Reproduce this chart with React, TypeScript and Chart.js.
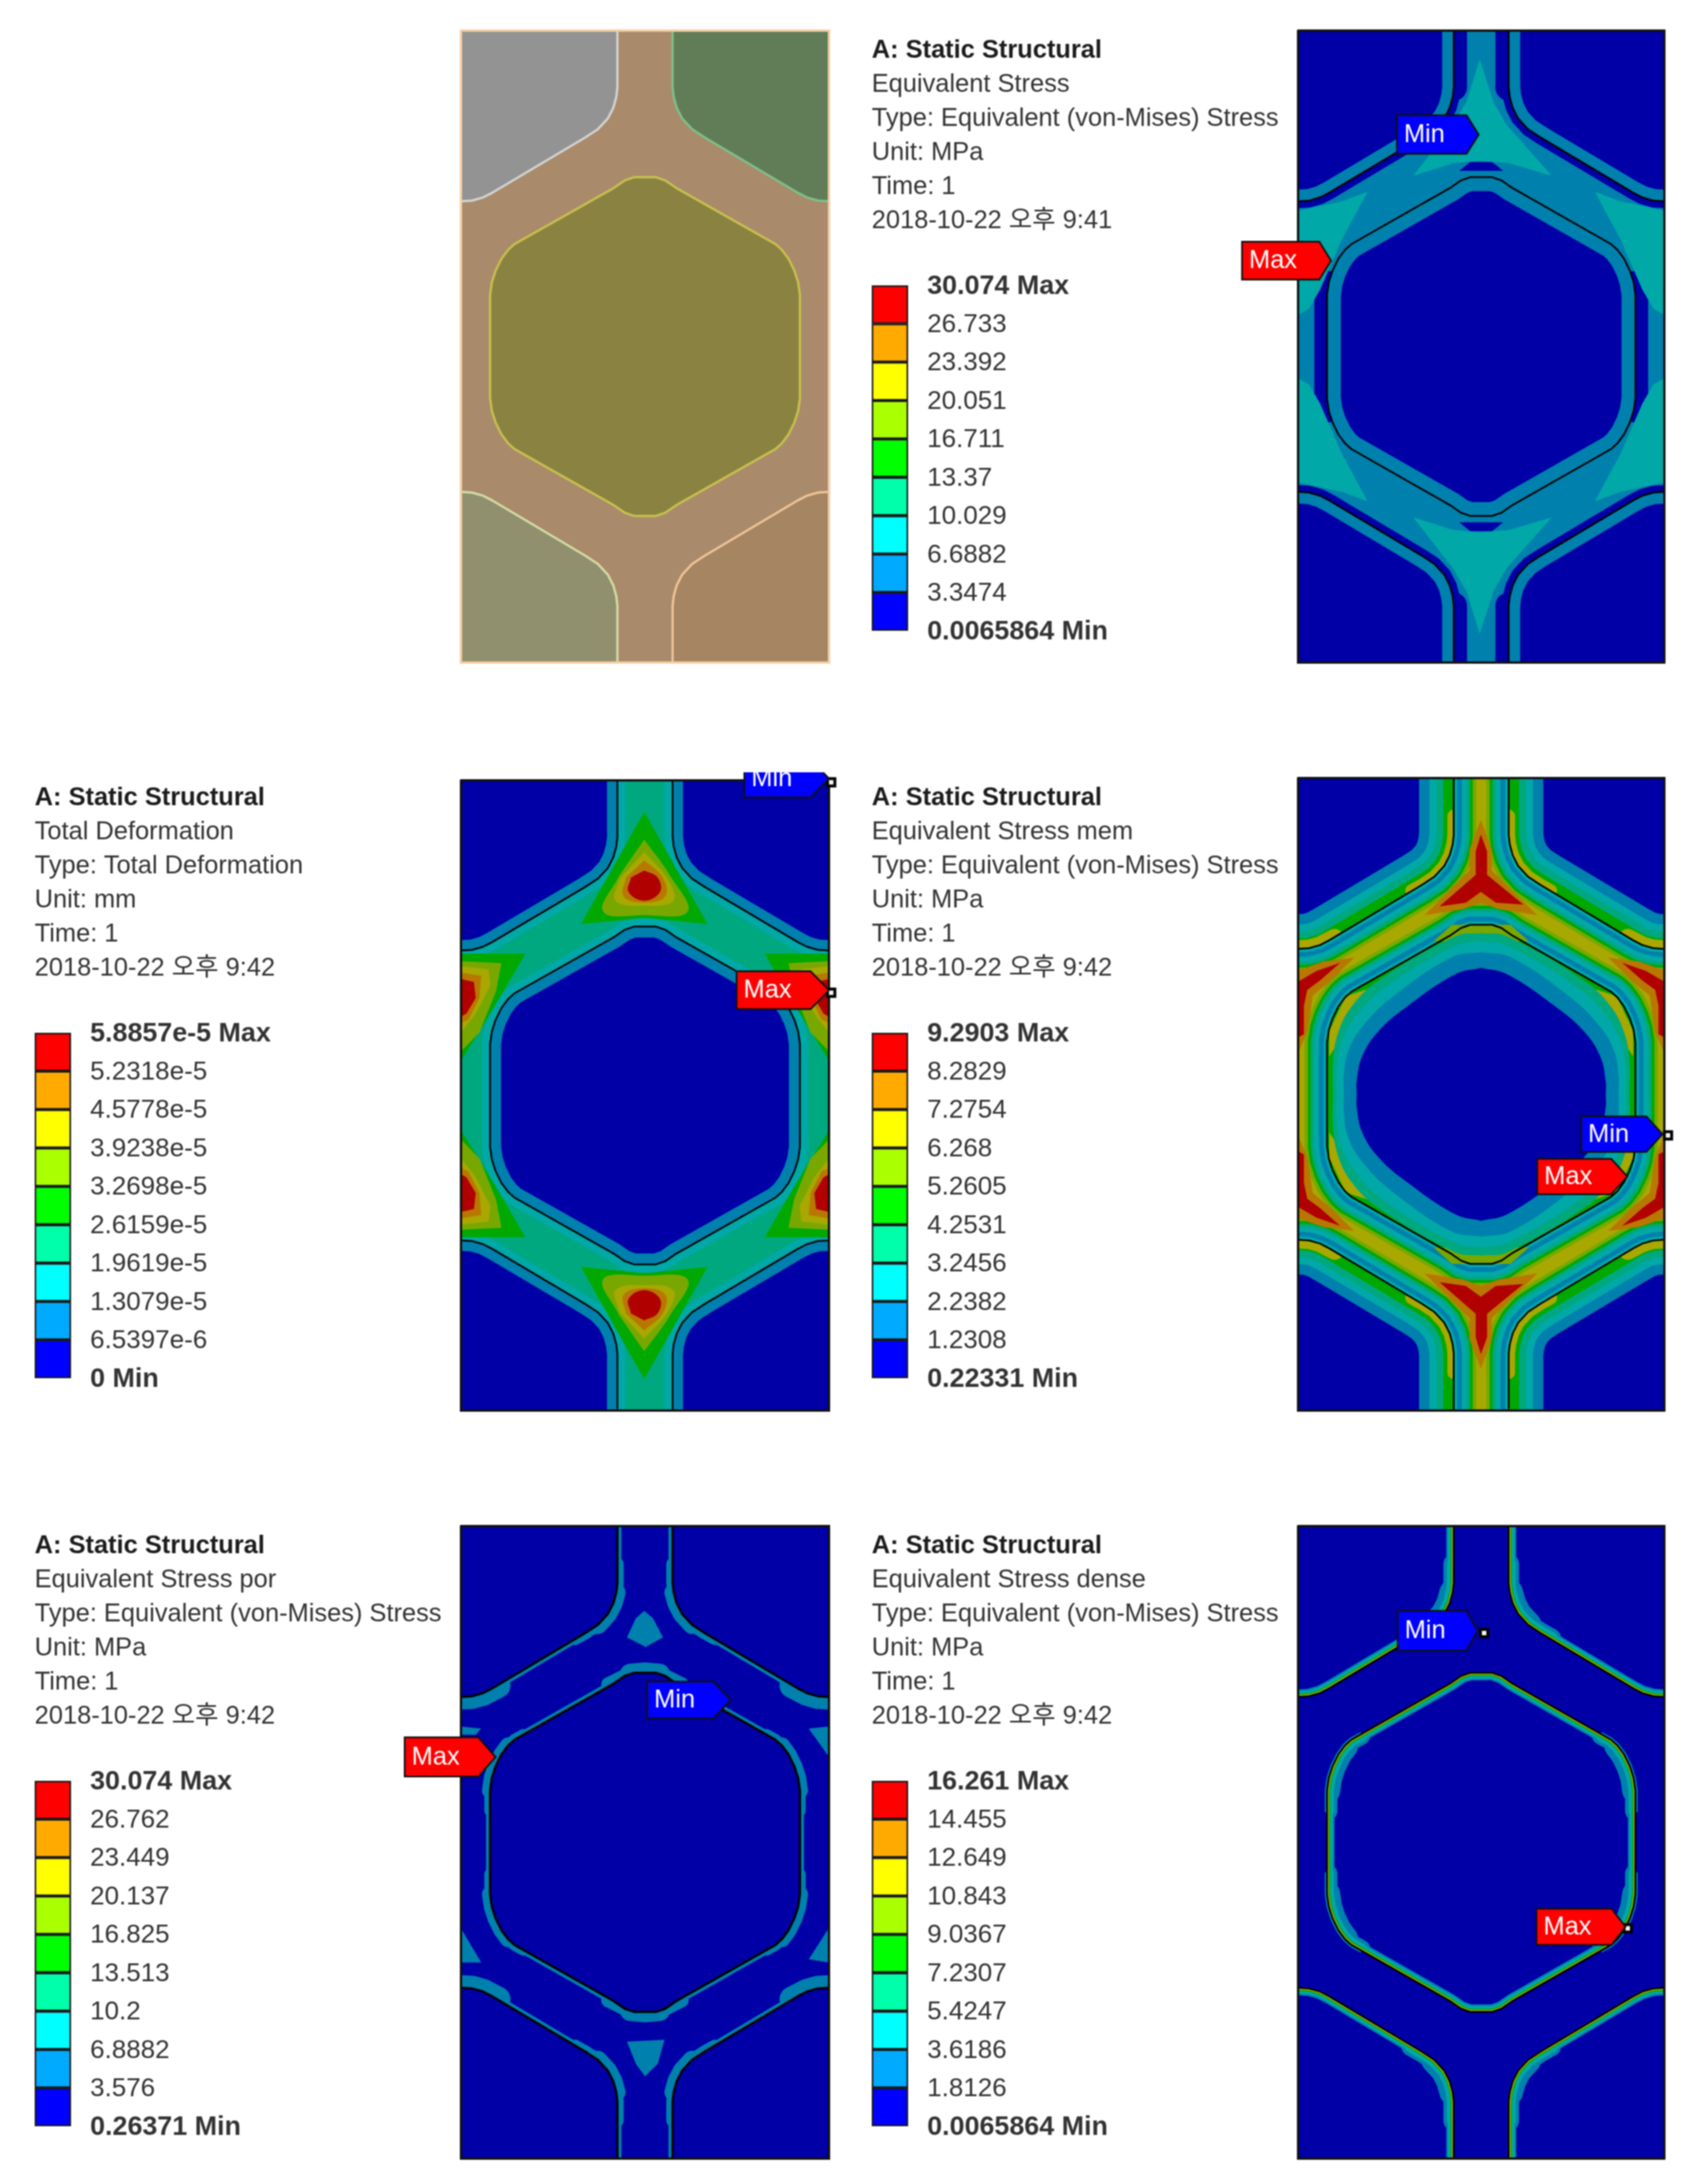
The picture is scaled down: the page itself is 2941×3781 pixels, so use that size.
import React, { useEffect, useRef } from "react";
import { Chart, registerables } from "chart.js";

Chart.register(...registerables);

type Pt = number[];

// ---------- text ----------
const headerTitle = "A: Static Structural";
const headerStress = ["Equivalent Stress", "Type: Equivalent (von-Mises) Stress", "Unit: MPa", "Time: 1", "2018-10-22 오후 9:41"];
const headerDeformation = ["Total Deformation", "Type: Total Deformation", "Unit: mm", "Time: 1", "2018-10-22 오후 9:42"];
const headerMem = ["Equivalent Stress mem", "Type: Equivalent (von-Mises) Stress", "Unit: MPa", "Time: 1", "2018-10-22 오후 9:42"];
const headerPor = ["Equivalent Stress por", "Type: Equivalent (von-Mises) Stress", "Unit: MPa", "Time: 1", "2018-10-22 오후 9:42"];
const headerDense = ["Equivalent Stress dense", "Type: Equivalent (von-Mises) Stress", "Unit: MPa", "Time: 1", "2018-10-22 오후 9:42"];

// ---------- legend levels ----------
const levelsStress = ["30.074 Max", "26.733", "23.392", "20.051", "16.711", "13.37", "10.029", "6.6882", "3.3474", "0.0065864 Min"];
const levelsDeformation = ["5.8857e-5 Max", "5.2318e-5", "4.5778e-5", "3.9238e-5", "3.2698e-5", "2.6159e-5", "1.9619e-5", "1.3079e-5", "6.5397e-6", "0 Min"];
const levelsMem = ["9.2903 Max", "8.2829", "7.2754", "6.268", "5.2605", "4.2531", "3.2456", "2.2382", "1.2308", "0.22331 Min"];
const levelsPor = ["30.074 Max", "26.762", "23.449", "20.137", "16.825", "13.513", "10.2", "6.8882", "3.576", "0.26371 Min"];
const levelsDense = ["16.261 Max", "14.455", "12.649", "10.843", "9.0367", "7.2307", "5.4247", "3.6186", "1.8126", "0.0065864 Min"];
const legendColors = ["#ff0000", "#ffaa00", "#ffff00", "#aaff00", "#00ff00", "#00ffaa", "#00ffff", "#00aaff", "#0000ff"];

// ---------- contour outlines, fractions of the panel ----------
const holeQuarter: Pt[] = [[.5, .232], [.53, .232], [.555, .237], [.585, .249], [.855, .338], [.872, .347], [.89, .361], [.906, .38], [.916, .398], [.921, .418], [.921, .5]];
const holeShoulder: Pt[] = [[.83, .33], [.855, .338], [.872, .347], [.89, .361], [.906, .38], [.916, .398], [.921, .418], [.921, .45]];
const holeShoulderCore: Pt[] = [[.872, .347], [.89, .361], [.906, .38], [.916, .398], [.921, .418]];
const holeSide: Pt[] = [[.921, .40], [.921, .5], [.921, .60]];
const holeCrown: Pt[] = [[.46, .234], [.5, .232], [.54, .234]];
const holeCrownWide: Pt[] = [[.40, .25], [.445, .237], [.5, .232], [.555, .237], [.60, .25]];
const cornerPath: Pt[] = [[.425, 0], [.425, .09], [.422, .105], [.414, .122], [.399, .139], [.372, .156], [.338, .169], [.085, .2565], [.06, .264], [.03, .269], [0, .27]];
const cornerArc: Pt[] = [[.425, .06], [.425, .09], [.422, .105], [.414, .122], [.399, .139], [.372, .156], [.338, .169], [.31, .178]];
const cornerArcCore: Pt[] = [[.422, .105], [.414, .122], [.399, .139], [.372, .156]];
const cornerEdge: Pt[] = [[.1, .252], [.06, .264], [.03, .269], [0, .27]];
const cornerStem: Pt[] = [[.425, 0], [.425, .09]];

const tealJunction: Pt[] = [[.496, .045], [.533, .112], [.569, .149], [.693, .23], [.577, .21], [.496, .206], [.423, .21], [.314, .23], [.423, .149], [.46, .112]];
const tealSide: Pt[] = [[0, .285], [.12, .27], [.19, .255], [.12, .33], [.06, .41], [.03, .44], [0, .45]];
const darkTopPatch: Pt[] = [[.44, .222], [.47, .208], [.53, .208], [.56, .222]];

const defGreen: Pt[] = [[.498, .05], [.67, .228], [.498, .218], [.326, .228]];
const defYg: Pt[] = [[.498, .094], [.568, .151], [.616, .208], [.498, .214], [.386, .208], [.43, .151]];
const defYel: Pt[] = [[.498, .114], [.562, .157], [.577, .191], [.498, .199], [.42, .191], [.43, .157]];
const defOrg: Pt[] = [[.498, .127], [.548, .154], [.555, .184], [.498, .194], [.442, .184], [.448, .154]];
const defRed: Pt[] = [[.498, .143], [.534, .154], [.541, .177], [.498, .191], [.455, .177], [.462, .154]];
const defSideGreen: Pt[] = [[0, .275], [.175, .275], [.09, .36], [0, .445]];
const defSideYg: Pt[] = [[0, .287], [.11, .29], [.095, .335], [.05, .40], [0, .43]];
const defSideYel: Pt[] = [[0, .295], [.075, .30], [.08, .325], [.04, .37], [0, .40]];
const defSideOrg: Pt[] = [[0, .305], [.055, .31], [.05, .345], [.02, .38], [0, .385]];
const defSideRed: Pt[] = [[0, .315], [.035, .32], [.04, .345], [.015, .37], [0, .375]];

const memOval: Pt[] = [[.5, .30], [.57, .31], [.70, .36], [.78, .40], [.825, .44], [.84, .48], [.84, .5]];
const memLb: Pt[] = [[.5, .275], [.58, .283], [.74, .345], [.82, .39], [.862, .43], [.875, .47], [.875, .5]];
const memTeal: Pt[] = [[.5, .258], [.57, .265], [.76, .33], [.84, .375], [.88, .415], [.895, .46], [.895, .5]];
const memGt: Pt[] = [[.5, .245], [.57, .25], [.78, .32], [.855, .362], [.892, .405], [.905, .45], [.905, .5]];
const memRedY: Pt[] = [[.499, .089], [.516, .116], [.516, .153], [.615, .2], [.54, .197], [.499, .18], [.458, .197], [.386, .203], [.485, .153], [.485, .116]];
const memOrgY: Pt[] = [[.499, .066], [.529, .113], [.529, .146], [.653, .217], [.547, .207], [.499, .197], [.451, .207], [.345, .217], [.468, .146], [.468, .113]];
const memRedSide: Pt[] = [[0, .322], [.05, .305], [.115, .292], [.06, .32], [.025, .335], [.016, .36], [.016, .405], [0, .41]];
const memOrgSide: Pt[] = [[0, .304], [.07, .29], [.153, .284], [.09, .32], [.04, .344], [.026, .40], [0, .435]];
const memHoleTop: Pt[] = [[.42, .232], [.58, .232], [.63, .258], [.37, .258]];
const memHoleShoulder: Pt[] = [[.79, .33], [.87, .345], [.915, .40], [.915, .44], [.87, .40]];

const porTop: Pt[] = [[.498, .134], [.522, .146], [.549, .176], [.502, .191], [.451, .176], [.475, .146]];
const porBottom: Pt[] = [[.451, .815], [.553, .812], [.535, .85], [.50, .87], [.475, .85]];
const porSideRight: Pt[] = [[.945, .32], [1, .317], [1, .365]];
const porSideLeft: Pt[] = [[0, .317], [.055, .32], [.04, .33], [0, .33]];
const porLowLeft: Pt[] = [[0, .636], [.055, .69], [0, .69]];
const porLowRight: Pt[] = [[1, .635], [.945, .685], [1, .69]];

// ---------- Max / Min flags: x start, x shoulder, tip x, top y, bottom y ----------
const flagsStress = [["Max", -.153, .058, .09, .334, .394], ["Min", .27, .46, .493, .134, .195]];
const flagsDeformation = [["Max", .749, .95, 1, .303, .363], ["Min", .77, .95, 1, -.033, .027]];
const flagsMem = [["Min", .773, .951, .995, .535, .591], ["Max", .653, .855, .899, .602, .658]];
const flagsPor = [["Max", -.153, .047, .094, .334, .396], ["Min", .506, .686, .733, .246, .304]];
const flagsDense = [["Min", .272, .46, .49, .134, .197], ["Max", .651, .856, .894, .605, .662]];
const markersDeformation: Pt[] = [[1.006, .003], [1.006, .337]];
const markersMem: Pt[] = [[1.01, .565]];
const markersDense: Pt[] = [[.508, .169], [.90, .636]];

// ---------- palette ----------
const C = { blue: "#0000a6", lb: "#0080ad", teal: "#00a8a8", gt: "#00a880", green: "#00a800", yg: "#78a800", yel: "#a8a800", org: "#b87800", red: "#b00000" };

// ---------- helpers ----------
const mx = (p: Pt[]) => p.map(([x, y]) => [1 - x, y]);
const my = (p: Pt[]) => p.map(([x, y]) => [x, 1 - y]);
const mxy = (p: Pt[]) => p.map(([x, y]) => [1 - x, 1 - y]);
const rev = (p: Pt[]) => [...p].reverse();
const fourfold = (q: Pt[]) => [...q, ...rev(my(q)), ...mxy(q), ...rev(mx(q))];
const four = (p: Pt[]) => [p, mx(p), my(p), mxy(p)];
const both = (p: Pt[]) => [p, my(p)];
const xy = (p: Pt[]) => p.map(([x, y]) => ({ x, y }));
const smooth = (ds: any[]) => ds.map((d) => ({ ...d, tension: .4 }));

const hole = fourfold(holeQuarter);
const cornerPaths = four(cornerPath);
const cornerRegions = four([...cornerPath, [0, 0], cornerPath[0]]);
const frame: Pt[] = [[0, 0], [1, 0], [1, 1], [0, 1], [0, 0]];

const fill = (p: Pt[], color: string) => ({
  data: xy(p), showLine: true, fill: "shape", backgroundColor: color, borderColor: color,
  borderWidth: 0, pointRadius: 0, clip: 0,
});
const fills = (ps: Pt[][], color: string) => ps.map((p) => fill(p, color));
const line = (p: Pt[], color: string, width: number, region?: string) => ({
  data: xy(p), showLine: true, fill: false, borderColor: color, borderWidth: width,
  pointRadius: 0, clip: 0, borderJoinStyle: "round", borderCapStyle: "round", region,
});
const lines = (ps: Pt[][], color: string, width: number, region?: string) => ps.map((p) => line(p, color, width, region));
const webLines = (color: string, width: number) => [...lines(cornerPaths, color, width, "web"), line(hole, color, width, "web")];
const innerLines = (color: string, width: number) => [...lines(cornerPaths, color, width, "inner"), line(hole, color, width, "inner")];
const blackLines = (w = 4) => [...lines(cornerPaths, "#000", w), line(hole, "#000", w)];
const regions = (color: string) => [...fills(cornerRegions, color), fill(hole, color)];
const flagData = (flags: any[]) =>
  flags.map(([name, x0, x1, tip, yT, yB]) => ({
    data: xy([[x0, yT], [x1, yT], [tip, (yT + yB) / 2], [x1, yB], [x0, yB], [x0, yT]]),
    showLine: false, pointRadius: 0, clip: false, flagText: name,
  }));
const markers = (m: Pt[]) => m.length ? [{
  data: xy(m), showLine: false, pointStyle: "rect", pointRadius: 9, backgroundColor: "#f4f4f4",
  borderColor: "#000", borderWidth: 5, clip: false,
}] : [];
const frameLine = (c = "#111", w = 4) => ({ ...line(frame, c, w), clip: false, borderJoinStyle: "miter" });

// ---------- panels ----------
const geometryLayers = () => [
  fill(frame, "#a98a6b"),
  fill(cornerRegions[0], "#939393"), fill(cornerRegions[1], "#607d58"), fill(cornerRegions[2], "#90906f"), fill(cornerRegions[3], "#a58562"),
  fill(hole, "#8a8240"),
  line(cornerPaths[0], "#d4d4d4", 4), line(cornerPaths[1], "#7fc08a", 4), line(cornerPaths[2], "#d4dca4", 4), line(cornerPaths[3], "#f0c498", 4),
  line(hole, "#c8c04e", 4),
  frameLine("#f3cda4", 4),
];

const stressLayers = () => [
  fill(frame, C.lb),
  ...lines(cornerPaths, C.blue, 24, "web"),
  ...lines(four(cornerStem), C.blue, 46, "web"),
  line(holeSide, C.blue, 44, "web"), line(mx(holeSide), C.blue, 44, "web"),
  ...fills(both(darkTopPatch), C.blue),
  ...fills(both(tealJunction), C.teal),
  ...fills(four(tealSide), C.teal),
  ...regions(C.blue),
  ...lines(cornerPaths, C.lb, 40, "inner"),
  line(hole, C.lb, 48, "inner"),
  ...blackLines(3),
  frameLine(),
  ...flagData(flagsStress),
];

const deformationLayers = () => [
  fill(frame, C.gt),
  ...webLines(C.teal, 28),
  ...fills(both(defGreen), C.green), ...smooth(fills(both(defYg), C.yg)), ...smooth(fills(both(defYel), C.yel)), ...smooth(fills(both(defOrg), C.org)), ...smooth(fills(both(defRed), C.red)),
  ...fills(four(defSideGreen), C.green), ...fills(four(defSideYg), C.yg), ...fills(four(defSideYel), C.yel), ...fills(four(defSideOrg), C.org), ...fills(four(defSideRed), C.red),
  ...regions(C.blue),
  ...lines(cornerPaths, C.lb, 36, "inner"),
  line(hole, C.lb, 38, "inner"),
  ...blackLines(3),
  frameLine(),
  ...flagData(flagsDeformation),
  ...markers(markersDeformation),
];

const memLayers = () => [
  fill(frame, C.yel),
  ...webLines(C.yg, 78), ...webLines(C.green, 66), ...webLines(C.gt, 56), ...webLines(C.teal, 44), ...webLines(C.lb, 28), ...webLines(C.teal, 12),
  ...fills(both(memOrgY), C.org), ...fills(four(memOrgSide), C.org),
  ...fills(both(memRedY), C.red), ...fills(four(memRedSide), C.red),
  fill(hole, C.green),
  ...fills(both(memHoleTop), C.yg),
  ...fills(four(memHoleShoulder), C.yel),
  ...smooth([fill(fourfold(memGt), C.gt), fill(fourfold(memTeal), C.teal), fill(fourfold(memLb), C.lb), fill(fourfold(memOval), C.blue)]),
  ...fills(cornerRegions, C.blue),
  ...lines(cornerPaths, C.lb, 120, "corners"),
  ...lines(cornerPaths, C.teal, 84, "corners"),
  ...lines(cornerPaths, C.gt, 60, "corners"),
  ...lines(cornerPaths, C.green, 36, "corners"),
  ...lines(four(cornerArc), C.yel, 22, "corners"),
  ...lines(four(cornerEdge), C.yel, 30, "corners"),
  ...blackLines(3),
  frameLine(),
  ...flagData(flagsMem),
  ...markers(markersMem),
];

const porLayers = () => [
  fill(frame, C.blue),
  ...lines(cornerPaths, C.lb, 14, "web"),
  line(hole, C.lb, 14, "web"),
  ...lines(both(holeCrownWide), C.lb, 24, "web"),
  ...lines(both(holeCrown), C.lb, 36, "web"),
  ...lines(four(holeShoulder), C.lb, 20, "web"),
  ...lines(four(holeShoulderCore), C.lb, 28, "web"),
  ...lines(four(cornerArc), C.lb, 22, "web"),
  ...lines(four(cornerArcCore), C.lb, 32, "web"),
  ...lines(four(cornerEdge), C.lb, 44, "web"),
  fill(porTop, C.lb), fill(porBottom, C.lb), fill(porSideRight, C.lb), fill(porSideLeft, C.lb), fill(porLowLeft, C.lb), fill(porLowRight, C.lb),
  ...regions(C.blue),
  ...blackLines(4),
  frameLine(),
  ...flagData(flagsPor),
];

const denseLayers = () => [
  fill(frame, C.blue),
  ...lines(four(holeShoulder), C.lb, 8, "web"),
  ...lines(four(cornerArc), C.lb, 36, "inner"),
  ...lines(four(cornerArcCore), C.lb, 46, "inner"),
  ...lines(four(holeShoulder), C.lb, 36, "inner"),
  ...lines(four(holeShoulderCore), C.lb, 46, "inner"),
  ...innerLines(C.lb, 26),
  ...innerLines(C.teal, 20),
  ...lines(four(cornerArc), C.teal, 24, "inner"),
  ...lines(four(holeShoulder), C.teal, 24, "inner"),
  ...innerLines(C.green, 11),
  ...innerLines(C.yel, 7),
  ...blackLines(3),
  frameLine(),
  ...flagData(flagsDense),
  ...markers(markersDense),
];

// ---------- plugins ----------
const px = (chart: any, [x, y]: Pt) => [chart.scales.x.getPixelForValue(x), chart.scales.y.getPixelForValue(y)];
const tracePoly = (chart: any, ctx: any, poly: Pt[]) => {
  poly.forEach((p, i) => {
    const [a, b] = px(chart, p);
    if (i) ctx.lineTo(a, b); else ctx.moveTo(a, b);
  });
  ctx.closePath();
};
const regionClip = {
  id: "regionClip",
  beforeDatasetDraw(chart: any, args: any) {
    const region = chart.data.datasets[args.index].region;
    if (!region) return;
    const ctx = chart.ctx;
    ctx.save();
    ctx.beginPath();
    if (region === "web") {
      const a = chart.chartArea;
      ctx.rect(a.left, a.top, a.width, a.height);
      cornerRegions.forEach((p) => tracePoly(chart, ctx, p));
      tracePoly(chart, ctx, hole);
      ctx.clip("evenodd");
    } else {
      if (region !== "hole") cornerRegions.forEach((p) => tracePoly(chart, ctx, p));
      if (region !== "corners") tracePoly(chart, ctx, hole);
      ctx.clip();
    }
  },
  afterDatasetDraw(chart: any, args: any) {
    if (chart.data.datasets[args.index].region) chart.ctx.restore();
  },
};
const FONT = '"Liberation Sans", "Noto Sans CJK KR", sans-serif';
const flagLabels = {
  id: "flagLabels",
  afterDatasetsDraw(chart: any) {
    const ctx = chart.ctx;
    chart.data.datasets.forEach((d: any) => {
      if (!d.flagText) return;
      const poly = d.data.map((p: any) => [p.x, p.y]);
      const x = chart.scales.x.getPixelForValue(d.data[0].x) + 12;
      const y = chart.scales.y.getPixelForValue((d.data[0].y + d.data[3].y) / 2);
      ctx.save();
      ctx.beginPath();
      tracePoly(chart, ctx, poly);
      ctx.fillStyle = d.flagText === "Max" ? "#ff0000" : "#0000ff";
      ctx.strokeStyle = "#101010";
      ctx.lineWidth = 3;
      ctx.fill();
      ctx.stroke();
      ctx.fillStyle = "#fff";
      ctx.font = `44px ${FONT}`;
      ctx.textAlign = "left";
      ctx.textBaseline = "middle";
      ctx.fillText(d.flagText, x, y + 1);
      ctx.restore();
    });
  },
};

// ---------- chart components ----------
const base = { responsive: false, animation: false, devicePixelRatio: 1, events: [] };

function Panel({ x, y, w, h, layers, topPad = 40 }: any) {
  const ref = useRef<HTMLCanvasElement>(null);
  const L = 170, R = 40, B = 15;
  useEffect(() => {
    // Chart.js paints the last dataset first, so the layer list is handed over back to front.
    const chart = new Chart(ref.current!, {
      type: "scatter",
      data: { datasets: layers().reverse() },
      options: {
        ...base,
        layout: { padding: { left: L, right: R, top: topPad, bottom: B } },
        plugins: { legend: { display: false }, tooltip: { enabled: false }, title: { display: false } },
        elements: { line: { tension: 0 } },
        scales: {
          x: { type: "linear", min: 0, max: 1, display: false },
          y: { type: "linear", min: 0, max: 1, reverse: true, display: false },
        },
      },
      plugins: [regionClip, flagLabels],
    } as any);
    return () => chart.destroy();
  }, []);
  return (
    <canvas ref={ref} width={w + L + R} height={h + topPad + B}
      style={{ position: "absolute", left: x - L, top: y - topPad, filter: "blur(1px)" }} />
  );
}

function Legend({ x, y, header, levels }: any) {
  const ref = useRef<HTMLCanvasElement>(null);
  const W = 720, H = 1100, BAR = 63;
  useEffect(() => {
    const values = levels.map((s: string) => parseFloat(s));
    const names = new Map(values.map((v: number, i: number) => [v, levels[i]]));
    const top = values[0], bottom = values[values.length - 1];
    const chart = new Chart(ref.current!, {
      type: "bar",
      data: {
        labels: [""],
        datasets: legendColors.map((color, i) => ({
          data: [[values[i + 1], values[i]]], backgroundColor: color, borderColor: "#1a1a1a",
          borderWidth: 3, borderSkipped: false, barPercentage: 1, categoryPercentage: 1, grouped: false,
        })),
      },
      options: {
        ...base,
        layout: { padding: { bottom: 20 } },
        plugins: {
          legend: { display: false }, tooltip: { enabled: false },
          title: { display: true, text: headerTitle, align: "start", color: "#1c1c1c", padding: { top: 5, bottom: 0 },
            font: { family: FONT, size: 44, weight: "bold", lineHeight: "59px" } },
          subtitle: { display: true, text: header, align: "start", color: "#333", padding: { top: 0, bottom: 82 },
            font: { family: FONT, size: 44, weight: "normal", lineHeight: "59px" } },
        },
        scales: {
          x: { display: false },
          y: {
            position: "right", min: bottom, max: top,
            grid: { display: false, drawTicks: false }, border: { display: false },
            afterBuildTicks: (s: any) => { s.ticks = values.map((v: number) => ({ value: v })); },
            afterFit: (s: any) => { s.width = W - BAR; },
            ticks: {
              autoSkip: false, padding: 33, crossAlign: "near", color: "#333", labelOffset: 2,
              callback: (v: number) => names.get(v),
              font: (c: any) => {
                const bold = c.tick && (c.tick.value === top || c.tick.value === bottom);
                return { family: FONT, size: bold ? 46.5 : 45, weight: bold ? "bold" : "normal" };
              },
            },
          },
        },
      },
    } as any);
    return () => chart.destroy();
  }, []);
  return <canvas ref={ref} width={W} height={H} style={{ position: "absolute", left: x, top: y, filter: "blur(1px)" }} />;
}

const ROWS = [53, 1347, 2642];
const LEFT_TEXT = 60, RIGHT_TEXT = 1509, LEFT_PANEL = 798, RIGHT_PANEL = 2247;

export default function App() {
  return (
    <div style={{ position: "absolute", left: 0, top: 0, width: 2941, height: 3781, background: "#fff", overflow: "hidden" }}>
      <Legend x={RIGHT_TEXT} y={ROWS[0]} header={headerStress} levels={levelsStress} />
      <Legend x={LEFT_TEXT} y={ROWS[1]} header={headerDeformation} levels={levelsDeformation} />
      <Legend x={RIGHT_TEXT} y={ROWS[1]} header={headerMem} levels={levelsMem} />
      <Legend x={LEFT_TEXT} y={ROWS[2]} header={headerPor} levels={levelsPor} />
      <Legend x={RIGHT_TEXT} y={ROWS[2]} header={headerDense} levels={levelsDense} />
      <Panel x={LEFT_PANEL} y={ROWS[0]} w={637} h={1094} layers={geometryLayers} />
      <Panel x={RIGHT_PANEL} y={ROWS[0]} w={634} h={1094} layers={stressLayers} />
      <Panel x={LEFT_PANEL} y={ROWS[1]} w={637} h={1095} layers={deformationLayers} topPad={10} />
      <Panel x={RIGHT_PANEL} y={ROWS[1]} w={634} h={1095} layers={memLayers} />
      <Panel x={LEFT_PANEL} y={ROWS[2]} w={637} h={1095} layers={porLayers} />
      <Panel x={RIGHT_PANEL} y={ROWS[2]} w={634} h={1095} layers={denseLayers} />
    </div>
  );
}
